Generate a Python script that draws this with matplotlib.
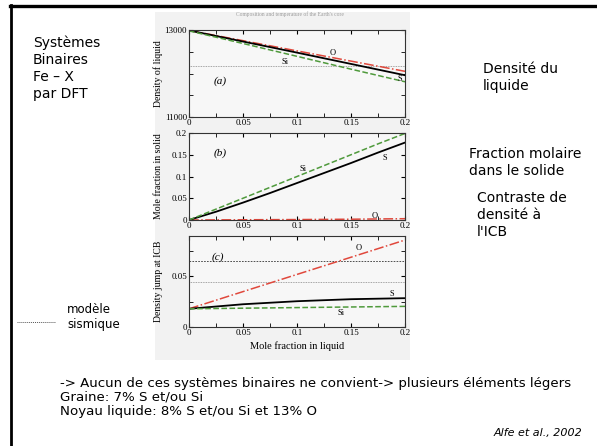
import matplotlib

matplotlib.use("Agg")

import matplotlib.pyplot as plt  # noqa: E402
from matplotlib.patches import Rectangle  # noqa: E402
from matplotlib.lines import Line2D  # noqa: E402
from matplotlib.ticker import MultipleLocator  # noqa: E402

# --- data ----------------------------------------------------------------
# (a) density of liquid vs mole fraction in liquid
x_a = [0.0, 0.05, 0.1, 0.15, 0.2]
rho_O = [12990, 12755, 12520, 12285, 12050]
rho_S = [12990, 12735, 12480, 12220, 11960]
rho_Si = [12980, 12690, 12395, 12100, 11810]
rho_prem = 12166

# (b) mole fraction in solid
x_b = [0.0, 0.025, 0.05, 0.075, 0.1, 0.125, 0.15, 0.175, 0.2]
sol_S = [0.0, 0.019, 0.040, 0.062, 0.085, 0.108, 0.131, 0.155, 0.178]
sol_Si = [0.0, 0.025, 0.050, 0.075, 0.100, 0.125, 0.150, 0.175, 0.199]
sol_O = [0.0, 0.0003, 0.0005, 0.0008, 0.001, 0.0014, 0.0018, 0.0024, 0.003]

# (c) density jump at ICB
x_c = [0.0, 0.05, 0.1, 0.15, 0.2]
jump_O = [0.018, 0.035, 0.052, 0.069, 0.086]
jump_S = [0.018, 0.0225, 0.0255, 0.0275, 0.0285]
jump_Si = [0.018, 0.0186, 0.0192, 0.0198, 0.0204]
jump_seis_dot = 0.045
jump_seis_dash = 0.065

xticks = [0, 0.05, 0.1, 0.15, 0.2]
xticklabels = ["0", "0.05", "0.1", "0.15", "0.2"]

W, H = 597, 446
RED = "#e0483c"
GREEN = "#4f9a3c"
SERIF = ["Liberation Serif", "DejaVu Serif"]
SLIDE = ["DejaVu Sans"]


def fx(x):
    return x / W


def fy(y):
    return 1 - y / H


fig = plt.figure(figsize=(W / 100, H / 100), dpi=100)

# slide frame
fig.add_artist(Line2D([fx(10), 1], [fy(6), fy(6)], color="black", lw=2.4))
fig.add_artist(Line2D([fx(11), fx(11)], [fy(5), 0], color="black", lw=2.0))

# grey background of the pasted figure
fig.add_artist(Rectangle((fx(155), fy(360)), fx(410) - fx(155), fy(12) - fy(360),
                         transform=fig.transFigure, facecolor="#f2f2f2",
                         edgecolor="none", zorder=0))
fig.text(fx(290), fy(14), "Composition and temperature of the Earth's core",
         ha="center", va="center", fontsize=4, color="#9a9a9a", family=SERIF)


def panel(top, bottom):
    ax = fig.add_axes([fx(189), fy(bottom), fx(405) - fx(189), fy(top) - fy(bottom)])
    ax.set_facecolor("#f7f7f7")
    ax.set_xlim(0, 0.2)
    ax.set_xticks(xticks)
    ax.set_xticklabels(xticklabels)
    ax.xaxis.set_minor_locator(MultipleLocator(0.025))
    ax.tick_params(which="both", direction="in", top=True, right=True,
                   labelsize=6.5, pad=1.5)
    ax.tick_params(which="major", length=3)
    ax.tick_params(which="minor", length=3)
    for lab in ax.get_xticklabels() + ax.get_yticklabels():
        lab.set_family(SERIF)
    for s in ax.spines.values():
        s.set_linewidth(0.8)
        s.set_color("#333333")
    return ax


def ylabel(ax, text):
    ax.set_ylabel(text, fontsize=7, family=SERIF)
    ax.yaxis.set_label_coords(-0.12, 0.5)


# (a)
ax = panel(30, 117)
ax.set_ylim(11000, 13000)
ax.set_yticks([11000, 13000])
ax.set_yticklabels(["11000", "13000"], family=SERIF)
ax.yaxis.set_minor_locator(MultipleLocator(500))
ax.axhline(rho_prem, color="#888888", lw=0.6, ls=(0, (1, 1)))
ax.plot(x_a, rho_O, color=RED, lw=1.1, ls="-.")
ax.plot(x_a, rho_S, color="black", lw=1.3)
ax.plot(x_a, rho_Si, color=GREEN, lw=1.1, ls="--")
ax.text(0.133, 12466, "O", fontsize=6, family=SERIF, ha="center", va="center")
ax.text(0.089, 12275, "Si", fontsize=6, family=SERIF, ha="center", va="center")
ax.text(0.195, 11878, "S", fontsize=6, family=SERIF, ha="center", va="center")
ax.text(0.029, 11817, "(a)", fontsize=8, family=SERIF, style="italic",
        ha="center", va="center")
ylabel(ax, "Density of liquid")

# (b)
ax = panel(133, 220)
ax.set_ylim(0, 0.2)
ax.set_yticks([0, 0.05, 0.1, 0.15, 0.2])
ax.set_yticklabels(["0", "0.05", "0.1", "0.15", "0.2"], family=SERIF)
ax.plot(x_b, sol_O, color=RED, lw=1.1, ls="-.")
ax.plot(x_b, sol_S, color="black", lw=1.3)
ax.plot(x_b, sol_Si, color=GREEN, lw=1.1, ls="--")
ax.text(0.172, 0.009, "O", fontsize=6, family=SERIF, ha="center", va="center")
ax.text(0.106, 0.118, "Si", fontsize=6, family=SERIF, ha="center", va="center")
ax.text(0.181, 0.143, "S", fontsize=6, family=SERIF, ha="center", va="center")
ax.text(0.029, 0.153, "(b)", fontsize=8, family=SERIF, style="italic",
        ha="center", va="center")
ylabel(ax, "Mole fraction in solid")

# (c)
ax = panel(236, 327)
ax.set_ylim(0, 0.09)
ax.set_yticks([0, 0.05])
ax.set_yticklabels(["0", "0.05"], family=SERIF)
ax.yaxis.set_minor_locator(MultipleLocator(0.025))
ax.axhline(jump_seis_dash, color="#333333", lw=0.6, ls=(0, (2, 1.5)))
ax.axhline(jump_seis_dot, color="#888888", lw=0.6, ls=(0, (1, 1)))
ax.plot(x_c, jump_O, color=RED, lw=1.1, ls="-.")
ax.plot(x_c, jump_S, color="black", lw=1.3)
ax.plot(x_c, jump_Si, color=GREEN, lw=1.1, ls="--")
ax.text(0.157, 0.078, "O", fontsize=6, family=SERIF, ha="center", va="center")
ax.text(0.188, 0.033, "S", fontsize=6, family=SERIF, ha="center", va="center")
ax.text(0.141, 0.0138, "Si", fontsize=6, family=SERIF, ha="center", va="center")
ax.text(0.027, 0.069, "(c)", fontsize=8, family=SERIF, style="italic",
        ha="center", va="center")
ylabel(ax, "Density jump at ICB")
ax.set_xlabel("Mole fraction in liquid", fontsize=7.5, family=SERIF, labelpad=3)

# slide text
fig.text(fx(33), fy(36), "Systèmes\nBinaires\nFe – X\npar DFT", ha="left", va="top",
         fontsize=10, family=SLIDE, linespacing=1.25)
fig.text(fx(483), fy(62), "Densité du\nliquide", ha="left", va="top",
         fontsize=10, family=SLIDE, linespacing=1.25)
fig.text(fx(469), fy(147), "Fraction molaire\ndans le solide", ha="left", va="top",
         fontsize=10, family=SLIDE, linespacing=1.25)
fig.text(fx(477), fy(191), "Contraste de\ndensité à\nl'ICB", ha="left", va="top",
         fontsize=10, family=SLIDE, linespacing=1.25)
fig.add_artist(Line2D([fx(17), fx(55)], [fy(322), fy(322)], color="#555555",
                      lw=0.7, ls=(0, (1, 1))))
fig.text(fx(67), fy(303), "modèle\nsismique", ha="left", va="top",
         fontsize=8.5, family=SLIDE, linespacing=1.2)

fig.text(fx(60), fy(377), "-> Aucun de ces systèmes binaires ne convient-> plusieurs éléments légers\n"
         "Graine: 7% S et/ou Si\nNoyau liquide: 8% S et/ou Si et 13% O",
         ha="left", va="top", fontsize=9.6, family=SLIDE, linespacing=1.08)
fig.text(fx(582), fy(433), "Alfe et al., 2002", ha="right", va="center",
         fontsize=8, family=SLIDE, style="italic")

fig.savefig("out.png", dpi=100)
plt.close(fig)
